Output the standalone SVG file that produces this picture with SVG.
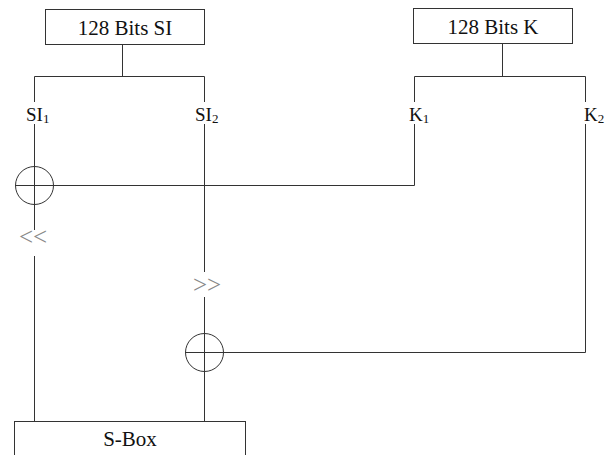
<svg xmlns="http://www.w3.org/2000/svg" width="610" height="455" viewBox="0 0 610 455">
<style>
.box{fill:#fff;stroke:#333;stroke-width:1}
.ln{fill:none;stroke:#333;stroke-width:1}
text{font-family:"Liberation Serif","Times New Roman",Times,serif}
.t{fill:#111}
.big{font-size:21px}
.lab{font-size:19px}
.sub{font-size:13px}
.sh{font-size:25px;fill:#888}
</style>
<rect width="610" height="455" fill="#fff"/>
<g id="connectors">
<path class="ln" d="M122.5 45V76.5M34.5 76.5H204.5M34.5 76.5V102M204.5 76.5V102"/>
<path class="ln" d="M502.5 43V76.5M414.5 76.5H585.5M414.5 76.5V102M585.5 76.5V102"/>
<path class="ln" d="M34.5 124V230M34.5 256V421"/>
<path class="ln" d="M204.5 124V272M204.5 297V421"/>
<path class="ln" d="M15 185.5H414.5V124"/>
<path class="ln" d="M185 352.5H585.5V124"/>
</g>
<g id="node-si">
<rect class="box" x="45.5" y="9.5" width="159" height="35"/>
<text class="t big" x="125" y="34.5" text-anchor="middle">128 Bits SI</text>
</g>
<g id="node-k">
<rect class="box" x="413.5" y="8.5" width="159" height="35"/>
<text class="t big" x="493" y="33.5" text-anchor="middle">128 Bits K</text>
</g>
<g id="label-si1"><text class="t lab" x="26" y="121">SI<tspan class="sub" dy="2">1</tspan></text></g>
<g id="label-si2"><text class="t lab" x="195" y="121">SI<tspan class="sub" dy="2">2</tspan></text></g>
<g id="label-k1"><text class="t lab" x="409" y="121">K<tspan class="sub" dy="2">1</tspan></text></g>
<g id="label-k2"><text class="t lab" x="584" y="121">K<tspan class="sub" dy="2">2</tspan></text></g>
<g id="xor1"><circle class="ln" cx="34.5" cy="185.5" r="19"/></g>
<g id="xor2"><circle class="ln" cx="204.5" cy="352.5" r="19"/></g>
<g id="shift-left"><text class="sh" x="33" y="244.5" text-anchor="middle">&lt;&lt;</text></g>
<g id="shift-right"><text class="sh" x="207" y="293" text-anchor="middle">&gt;&gt;</text></g>
<g id="node-sbox">
<rect class="box" x="14.5" y="421.5" width="231" height="50"/>
<text class="t big" x="130" y="446" text-anchor="middle">S-Box</text>
</g>
</svg>
